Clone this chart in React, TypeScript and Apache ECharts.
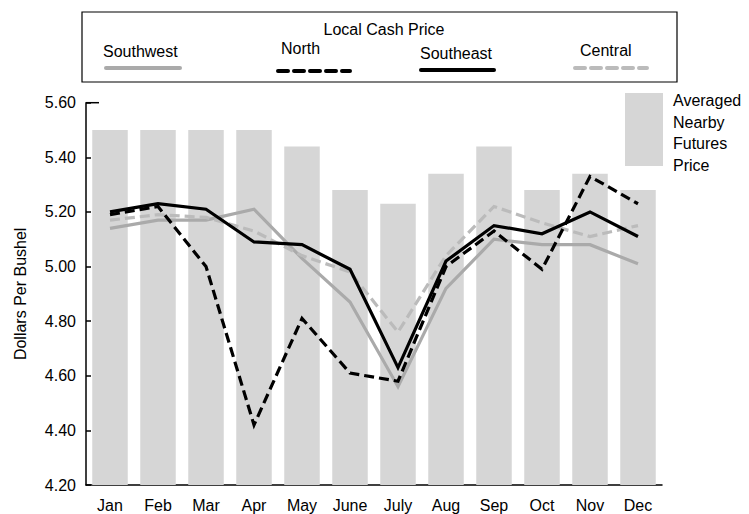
import React, { useEffect, useRef } from "react";
import * as echarts from "echarts";

const months = ["Jan", "Feb", "Mar", "Apr", "May", "June", "July", "Aug", "Sep", "Oct", "Nov", "Dec"];
const futures = [5.5, 5.5, 5.5, 5.5, 5.44, 5.28, 5.23, 5.34, 5.44, 5.28, 5.34, 5.28];
const southwest = [5.14, 5.17, 5.17, 5.21, 5.03, 4.87, 4.56, 4.92, 5.1, 5.08, 5.08, 5.01];
const north = [5.19, 5.22, 5.0, 4.42, 4.81, 4.61, 4.58, 5.0, 5.13, 4.99, 5.33, 5.23];
const southeast = [5.2, 5.23, 5.21, 5.09, 5.08, 4.99, 4.63, 5.02, 5.15, 5.12, 5.2, 5.11];
const central = [5.17, 5.19, 5.18, 5.13, 5.04, 4.98, 4.76, 5.04, 5.22, 5.16, 5.11, 5.15];
const seriesNames = ["Southwest", "North", "Southeast", "Central"];
const legendTitle = "Local Cash Price";
const futuresName = "Averaged\nNearby\nFutures\nPrice";
const yAxisName = "Dollars Per Bushel";

const FONT = "Liberation Sans, Arial, sans-serif";
const BAR = "#d6d6d6";
const SW = "#aaaaaa";
const CEN = "#bbbbbb";

export default function App() {
  const ref = useRef<HTMLDivElement>(null);
  useEffect(() => {
    if (!ref.current) return;
    const chart = echarts.init(ref.current, undefined, { renderer: "svg" });
    const legendItems = [
      { name: seriesNames[0], tx: 103, ty: 51, x1: 106, x2: 180, ly: 68, color: SW, dash: null as number[] | null },
      { name: seriesNames[1], tx: 281, ty: 48, x1: 278, x2: 350, ly: 71, color: "#000", dash: [10, 6] },
      { name: seriesNames[2], tx: 420, ty: 53, x1: 421, x2: 494, ly: 70, color: "#000", dash: null },
      { name: seriesNames[3], tx: 580, ty: 50, x1: 575, x2: 647, ly: 68, color: CEN, dash: [10, 6] },
    ];
    const graphic: any[] = [
      {
        type: "rect",
        shape: { x: 82, y: 12, width: 595, height: 70 },
        style: { fill: "#fff", stroke: "#000", lineWidth: 1.2 },
      },
      {
        type: "text",
        x: 384,
        y: 29,
        style: { text: legendTitle, font: `16px ${FONT}`, fill: "#000", textAlign: "center", textVerticalAlign: "middle" },
      },
      {
        type: "rect",
        shape: { x: 625, y: 93, width: 38, height: 73 },
        style: { fill: BAR },
      },
      {
        type: "text",
        x: 673,
        y: 90,
        style: { text: futuresName, font: `16px ${FONT}`, fill: "#000", lineHeight: 21.5, textAlign: "left", textVerticalAlign: "top" },
      },
      {
        type: "line",
        shape: { x1: 86, y1: 102.7, x2: 99, y2: 102.7 },
        style: { stroke: "#000", lineWidth: 1.5 },
        z: 10,
      },
    ];
    legendItems.forEach((it) => {
      graphic.push({
        type: "text",
        x: it.tx,
        y: it.ty,
        style: { text: it.name, font: `16px ${FONT}`, fill: "#000", textAlign: "left", textVerticalAlign: "middle" },
      });
      graphic.push({
        type: "line",
        shape: { x1: it.x1, y1: it.ly, x2: it.x2, y2: it.ly },
        style: { stroke: it.color, lineWidth: 4, lineCap: "round", lineDash: it.dash || undefined },
      });
    });

    const lineSeries = (name: string, data: number[], color: string, dashed: boolean, z: number) => ({
      type: "line",
      name,
      data,
      symbol: "none",
      z,
      lineStyle: { color, width: 3.2, type: dashed ? [10, 5] : "solid", cap: "butt", join: "miter" },
    });

    chart.setOption({
      animation: false,
      backgroundColor: "#fff",
      grid: { left: 86, right: 87, top: 102.7, bottom: 29 },
      xAxis: {
        type: "category",
        data: months,
        axisLine: { show: true, lineStyle: { color: "#000", width: 1.5 } },
        axisTick: { show: false },
        axisLabel: { color: "#000", fontSize: 16, fontFamily: FONT, margin: 12 },
      },
      yAxis: {
        type: "value",
        min: 4.2,
        max: 5.6,
        interval: 0.2,
        name: yAxisName,
        nameLocation: "middle",
        nameGap: 58,
        nameTextStyle: { color: "#000", fontSize: 16, fontFamily: FONT },
        axisLine: { show: true, lineStyle: { color: "#000", width: 1.5 } },
        axisTick: { show: true, inside: true, length: 5, lineStyle: { color: "#000", width: 1.5 } },
        splitLine: { show: false },
        axisLabel: {
          color: "#000",
          fontSize: 16,
          fontFamily: FONT,
          margin: 10,
          formatter: (v: number) => v.toFixed(2),
        },
      },
      series: [
        {
          type: "bar",
          name: "Futures",
          data: futures,
          barWidth: "74%",
          itemStyle: { color: BAR },
          z: 1,
        },
        lineSeries(seriesNames[0], southwest, SW, false, 2),
        lineSeries(seriesNames[3], central, CEN, true, 3),
        lineSeries(seriesNames[1], north, "#000", true, 4),
        lineSeries(seriesNames[2], southeast, "#000", false, 5),
      ],
      graphic,
    });
    return () => chart.dispose();
  }, []);
  return <div ref={ref} style={{ position: "fixed", left: 0, top: 0, width: 749, height: 514 }} />;
}
